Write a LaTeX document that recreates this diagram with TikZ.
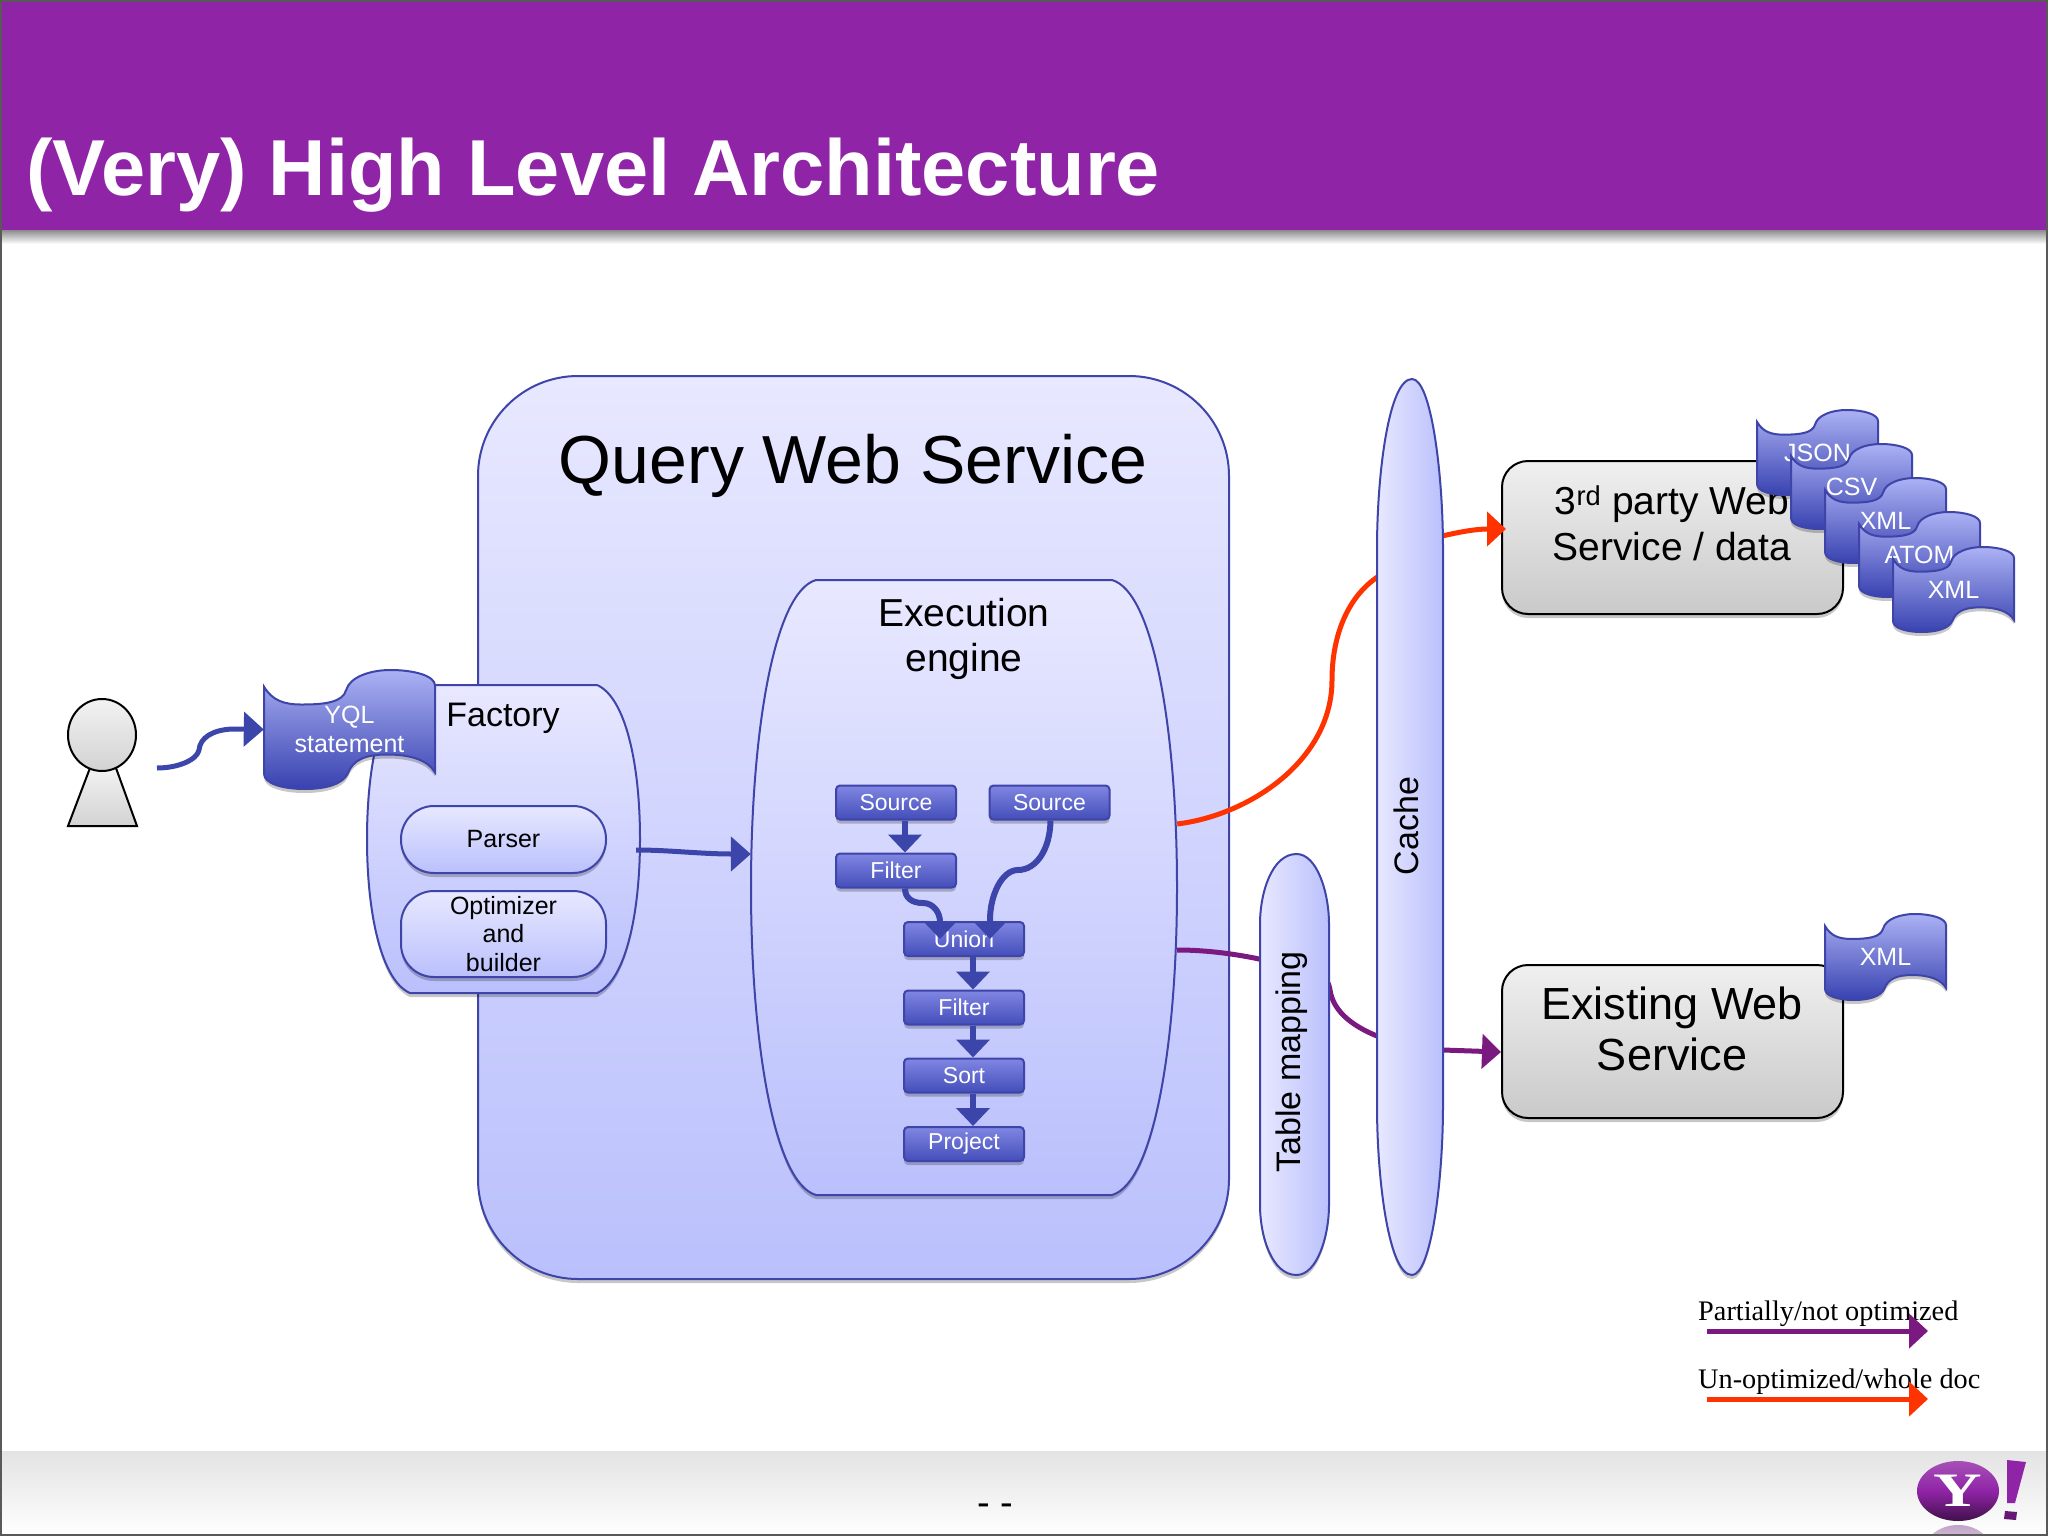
\documentclass[tikz,border=0pt]{standalone}
\usepackage{fontspec}
\setmainfont{Liberation Sans}
\newfontfamily\legendfont{Liberation Serif}
\usetikzlibrary{arrows.meta,shadows,shapes.geometric}

\begin{document}
\begin{tikzpicture}[x=1pt,y=-1pt]

\definecolor{slidepurple}{RGB}{144, 36, 166}
\definecolor{lightlav}{RGB}{232, 232, 255}
\definecolor{deeplav}{RGB}{186, 192, 252}
\definecolor{edgeblue}{RGB}{62, 68, 168}
\definecolor{flowblue}{RGB}{60, 70, 170}
\definecolor{boxtop}{RGB}{128, 134, 226}
\definecolor{boxbottom}{RGB}{68, 78, 186}
\definecolor{doctop}{RGB}{172, 178, 244}
\definecolor{docbottom}{RGB}{56, 66, 176}
\definecolor{partialline}{RGB}{122, 26, 128}
\definecolor{wholeline}{RGB}{255, 51, 0}

\useasboundingbox (0,0) rectangle (2048,1536);
\fill[white] (0,0) rectangle (2048,1536);

\tikzset{
    softshadow/.style={
        drop shadow={shadow xshift=0pt, shadow yshift=-4pt, opacity=0.22, fill=black}
    },
    lav block/.style={
        draw=edgeblue, line width=2pt, top color=lightlav, bottom color=deeplav, softshadow
    },
    lav bar/.style={
        draw=edgeblue, line width=2pt, left color=lightlav, right color=deeplav, softshadow
    },
    pill block/.style={
        lav block, rectangle, rounded corners=33pt,
        minimum width=205pt, align=center, inner sep=0pt,
        font=\fontsize{25}{28.5}\selectfont
    },
    step block/.style={
        draw=edgeblue, line width=2pt, top color=boxtop, bottom color=boxbottom, softshadow,
        rectangle, rounded corners=4pt, minimum width=120pt, minimum height=34pt,
        inner sep=0pt, text=white, font=\fontsize{23}{26}\selectfont
    },
    service block/.style={
        draw=black, line width=2pt, top color=gray!12, bottom color=gray!42, softshadow,
        rectangle, rounded corners=26pt, minimum width=341pt, minimum height=153pt,
        inner sep=0pt
    },
    service text/.style={
        align=center, inner sep=0pt
    },
    wave doc/.style={
        draw=edgeblue, line width=2pt, top color=doctop, bottom color=docbottom, softshadow
    },
    step flow/.style={
        draw=flowblue, line width=6pt, -{Triangle[length=18pt,width=33pt]}
    },
    main flow/.style={
        draw=flowblue, line width=5pt, -{Triangle[length=20pt,width=34pt]}
    },
    partial flow/.style={
        draw=partialline, line width=5pt, -{Triangle[length=19pt,width=34pt]}
    },
    whole flow/.style={
        draw=wholeline, line width=5pt, -{Triangle[length=19pt,width=34pt]}
    },
    person part/.style={
        draw=black, line width=2pt, top color=gray!10, bottom color=gray!35
    },
    legend text/.style={
        anchor=base west, inner sep=0pt, font=\legendfont\fontsize{28.3}{32}\selectfont
    }
}

% name, x, y, w, h, text
\newcommand{\wavedoc}[6]{
    \begin{scope}[shift={(#2,#3)},x=#4pt,y=-#5pt]
        \path[wave doc] (0,.14) .. controls (.05,.26) and (.12,.29) .. (.22,.29)
            .. controls (.36,.29) and (.46,.27) .. (.48,.17)
            .. controls (.5,.06) and (.62,0) .. (.74,0)
            .. controls (.88,0) and (1,.05) .. (1,.13) -- (1,.86)
            .. controls (.96,.76) and (.86,.71) .. (.72,.71)
            .. controls (.6,.71) and (.52,.75) .. (.49,.87)
            .. controls (.46,.96) and (.36,1) .. (.24,1)
            .. controls (.1,1) and (0,.95) .. (0,.87) -- cycle;
    \end{scope}
    \node[text=white, align=center, inner sep=0pt, minimum width=#4pt, minimum height=#5pt,
        font=\fontsize{25}{29}\selectfont] (#1) at ({#2+#4/2},{#3+#5/2}) {#6};
}

% name, left, top, right, bottom, side inset
\newcommand{\barrelbox}[6]{
    \path[lav block] ({#2+#6},#3) -- ({#4-#6},#3)
        .. controls ({#4-#6*0.35},{#3+12}) and (#4,{#3+(#5-#3)*0.25}) .. (#4,{(#3+#5)/2})
        .. controls (#4,{#5-(#5-#3)*0.25}) and ({#4-#6*0.35},{#5-12}) .. ({#4-#6},#5)
        -- ({#2+#6},#5)
        .. controls ({#2+#6*0.35},{#5-12}) and (#2,{#5-(#5-#3)*0.25}) .. (#2,{(#3+#5)/2})
        .. controls (#2,{#3+(#5-#3)*0.25}) and ({#2+#6*0.35},{#3+12}) .. ({#2+#6},#3) -- cycle;
    \node[inner sep=0pt, minimum width={(#4-#2)*1pt}, minimum height={(#5-#3)*1pt}]
        (#1) at ({(#2+#4)/2},{(#3+#5)/2}) {};
}

% name, left, top, right, bottom, cap height
\newcommand{\longbar}[6]{
    \path[lav bar] ({(#2+#4)/2+2},#3)
        .. controls ({#4-12},#3) and (#4,{#3+#6*0.55}) .. (#4,{#3+#6}) -- (#4,{#5-#6})
        .. controls (#4,{#5-#6*0.55}) and ({#4-12},#5) .. ({(#2+#4)/2+2},#5)
        .. controls ({#2+12},#5) and (#2,{#5-#6*0.55}) .. (#2,{#5-#6}) -- (#2,{#3+#6})
        .. controls (#2,{#3+#6*0.55}) and ({#2+12},#3) .. ({(#2+#4)/2+2},#3) -- cycle;
    \node[inner sep=0pt, minimum width={(#4-#2)*1pt}, minimum height={(#5-#3)*1pt}]
        (#1) at ({(#2+#4)/2},{(#3+#5)/2}) {};
}

% HEADER AND FOOTER
\fill[slidepurple] (0,0) rectangle (2048,230);
\shade[top color=black!45, bottom color=white] (0,230) rectangle (2048,244);
\shade[top color=gray!22, bottom color=white] (0,1451) rectangle (2048,1536);
\node[text=white, anchor=base west, inner sep=0pt, font=\bfseries\fontsize{79.4}{90}\selectfont]
    (title) at (26,195) {(Very) High Level Architecture};
\node[font=\fontsize{38}{42}\selectfont, inner sep=0pt] (pagemark) at (995,1510) {- -};

% QUERY WEB SERVICE
\node[lav block, rectangle, rounded corners=100pt, minimum width=751pt, minimum height=903pt,
    inner sep=0pt] (query) at (853.5,827.5) {};
\node[font=\fontsize{68}{78}\selectfont, inner sep=0pt] (querytitle) at (853,466) {Query Web Service};

% EXECUTION ENGINE
\barrelbox{engine}{751}{580}{1177}{1195}{65}
\node[align=center, inner sep=0pt, font=\fontsize{39}{45}\selectfont] (enginetitle) at (964,639) {Execution\\engine};

% Steps
\node[step block] (source1) at (896,802.5) {Source};
\node[step block] (source2) at (1049.5,802.5) {Source};
\node[step block] (filter1) at (896,870.5) {Filter};
\node[step block] (union) at (964,939) {Union};
\node[step block] (filter2) at (964,1007.5) {Filter};
\node[step block] (sort) at (964,1075.5) {Sort};
\node[step block] (project) at (964,1144) {Project};

\draw[step flow] ([xshift=9pt]source1.south) -- ([xshift=9pt]filter1.north);
\draw[step flow] ([xshift=9pt]filter1.south) .. controls (905,898) and (912,903) .. (923,903)
    .. controls (933,903) and (940,912) .. (940,922) -- ([xshift=-24pt,yshift=-18pt]union.north);
\draw[step flow] ([xshift=1pt]source2.south) .. controls (1050,850) and (1036,870) .. (1018,870)
    .. controls (1002,870) and (990,895) .. (990,920) -- ([xshift=26pt,yshift=-18pt]union.north);
\draw[step flow] ([xshift=9pt]union.south) -- ([xshift=9pt]filter2.north);
\draw[step flow] ([xshift=9pt]filter2.south) -- ([xshift=9pt]sort.north);
\draw[step flow] ([xshift=9pt]sort.south) -- ([xshift=9pt]project.north);

% FACTORY
\barrelbox{factory}{367}{685}{640}{993}{43}
\node[font=\fontsize{34}{40}\selectfont, inner sep=0pt] (factorytitle) at (503,718) {Factory};
\node[pill block, minimum height=67pt] (parser) at (503.5,839.5) {Parser};
\node[pill block, minimum height=86pt] (optimizer) at (503.5,934) {Optimizer\\and\\builder};
\draw[main flow] ([yshift=-11pt,xshift=-4pt]factory.east) .. controls (670,850) and (700,854) .. (engine.west |- 0,854);

% USER AND STATEMENT
\path[person part] (90,768) -- (116,768) -- (137,826) -- (68,826) -- cycle;
\node[person part, draw, ellipse, minimum width=68pt, minimum height=72pt, inner sep=0pt] (user) at (102,735) {};
\wavedoc{yql}{264}{670}{171}{119}{YQL\\statement}
\coordinate (userout) at (157,768);
\draw[main flow] (userout) .. controls (178,768) and (197,760) .. (199,750)
    .. controls (200,738) and (212,730) .. (232,729) -- (yql.west);

% BACK END SERVICES
\node[service block] (thirdparty) at (1672.5,537.5) {};
\node[service text, font=\fontsize{39}{46}\selectfont] (thirdpartytext) at (1672,523) {3\textsuperscript{rd} party Web\\Service / data};
\node[service block] (existing) at (1672.5,1041.5) {};
\node[service text, font=\fontsize{45}{51}\selectfont] (existingtext) at (1672,1029) {Existing Web\\Service};

\wavedoc{json}{1757}{410}{121}{85}{JSON}
\wavedoc{csv}{1791}{444}{121}{85}{CSV}
\wavedoc{xmlone}{1825}{478}{121}{85}{XML}
\wavedoc{atom}{1859}{512}{121}{85}{ATOM}
\wavedoc{xmltwo}{1893}{547}{121}{85}{XML}
\wavedoc{xmlthree}{1825}{914}{121}{86}{XML}

% CROSS LINES, bars go over them
\draw[whole flow] (engine.east |- 0,824) .. controls (1250,815) and (1332,760) .. (1332,680)
    .. controls (1332,640) and (1345,600) .. (1376,578)
    .. controls (1400,560) and (1420,538) .. (1442,536) .. controls (1460,532) and (1475,529) .. ([xshift=5pt]thirdparty.west |- 0,529);
\draw[partial flow] (engine.east |- 0,950) .. controls (1210,950) and (1240,955) .. (1259,959)
    .. controls (1290,966) and (1325,960) .. (1330,990)
    .. controls (1333,1010) and (1350,1025) .. (1377,1036)
    .. controls (1400,1046) and (1420,1050) .. (1443,1050) -- (existing.west |- 0,1052);

% Table mapping and Cache
\longbar{tablemap}{1260}{854}{1329}{1275}{70}
\node[rotate=90, inner sep=0pt, font=\fontsize{34}{38}\selectfont] (tablelabel) at (1292,1062) {Table mapping};
\longbar{cache}{1377}{379}{1443}{1275}{170}
\node[rotate=90, inner sep=0pt, font=\fontsize{34}{38}\selectfont] (cachelabel) at (1406,826) {Cache};

% LEGEND
\node[legend text] (partiallabel) at (1698,1320) {Partially/not optimized};
\node[legend text] (wholelabel) at (1698,1388) {Un-optimized/whole doc};
\coordinate (partialstart) at (1707,1331);
\coordinate (partialend) at (1928,1331);
\coordinate (wholestart) at (1707,1399);
\coordinate (wholeend) at (1928,1399);
\draw[partial flow] (partialstart) -- (partialend);
\draw[whole flow] (wholestart) -- (wholeend);

% LOGO
\begin{scope}
    \clip (1900,1524) rectangle (2010,1534);
    \shade[top color=slidepurple!55!gray, bottom color=white, opacity=0.5] (1958,1552) ellipse (34 and 27);
\end{scope}
\node[ellipse, inner sep=0pt, minimum width=82pt, minimum height=60pt, top color=slidepurple!80!white,
    bottom color=slidepurple!45!black, middle color=slidepurple] (logo) at (1958,1491) {};
\node[text=white, inner sep=0pt, xscale=1.4, transform shape, font=\legendfont\bfseries\fontsize{48}{52}\selectfont] (logoy) at (logo.center) {Y};
\fill[slidepurple] (2007,1460) -- (2026,1462) -- (2015,1503) -- (2007,1503) -- cycle;
\fill[slidepurple!70!black] (2005,1511) -- (2017,1512) -- (2016,1520) -- (2004,1519) -- cycle;

% Slide frame
\draw[black!65, line width=2pt] (1,1) rectangle (2047,1535);

\end{tikzpicture}
\end{document}
